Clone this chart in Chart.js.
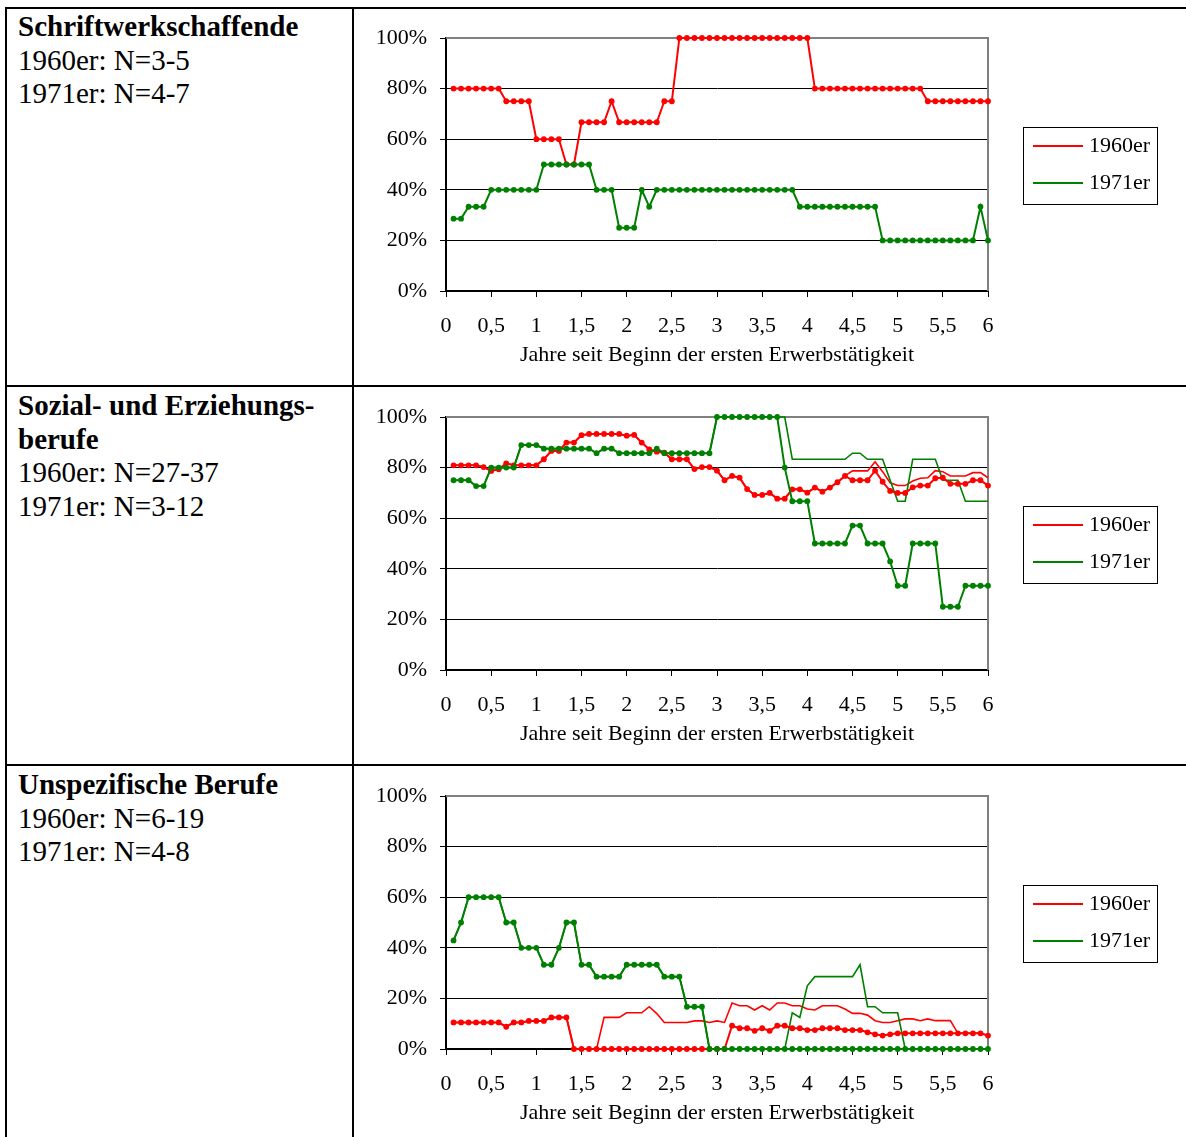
<!DOCTYPE html>
<html lang="de">
<head>
<meta charset="UTF-8">
<title>Erwerbstätigkeit nach Berufsgruppen</title>
<script src="https://cdn.jsdelivr.net/npm/chart.js"></script>
<style>
  body { margin:0; width:1186px; height:1137px; overflow:hidden; background:#fff; position:relative;
         font-family:'Liberation Serif','Times New Roman',serif; }
  .hl { position:absolute; left:5px; right:0; height:2px; background:#000; }
  .vl { position:absolute; top:7px; bottom:0; width:2px; background:#000; }
  .txt { position:absolute; left:18px; font-size:29px; line-height:33.6px; color:#000; }
  canvas { position:absolute; left:355px; }
</style>
</head>
<body>
<div class="hl" style="top:7px"></div>
<div class="hl" style="top:385px"></div>
<div class="hl" style="top:764px"></div>
<div class="vl" style="left:5px"></div>
<div class="vl" style="left:352px"></div>

<div class="txt" style="top:10px"><b>Schriftwerkschaffende</b><br>1960er: N=3-5<br>1971er: N=4-7</div>
<div class="txt" style="top:389px"><b>Sozial- und Erziehungs-<br>berufe</b><br>1960er: N=27-37<br>1971er: N=3-12</div>
<div class="txt" style="top:768px"><b>Unspezifische Berufe</b><br>1960er: N=6-19<br>1971er: N=4-8</div>

<canvas id="c1" width="831" height="370" style="top:8px"></canvas>
<canvas id="c2" width="831" height="370" style="top:387px"></canvas>
<canvas id="c3" width="831" height="370" style="top:766px"></canvas>

<script>
// Monate seit Beginn der ersten Erwerbstätigkeit
const monate = [1,2,3,4,5,6,7,8,9,10,11,12,13,14,15,16,17,18,19,20,21,22,23,24,
  25,26,27,28,29,30,31,32,33,34,35,36,37,38,39,40,41,42,43,44,45,46,47,48,
  49,50,51,52,53,54,55,56,57,58,59,60,61,62,63,64,65,66,67,68,69,70,71,72];
const kohorten = ['1960er', '1971er'];
const achsenTitel = 'Jahre seit Beginn der ersten Erwerbstätigkeit';

// Schriftwerkschaffende
const schrift1960 = [
  80,80,80,80,80,80,80,75,75,75,75,60,
  60,60,60,50,50,66.7,66.7,66.7,66.7,75,66.7,66.7,
  66.7,66.7,66.7,66.7,75,75,100,100,100,100,100,100,
  100,100,100,100,100,100,100,100,100,100,100,100,
  80,80,80,80,80,80,80,80,80,80,80,80,
  80,80,80,75,75,75,75,75,75,75,75,75];
const schrift1971 = [
  28.6,28.6,33.3,33.3,33.3,40,40,40,40,40,40,40,
  50,50,50,50,50,50,50,40,40,40,25,25,
  25,40,33.3,40,40,40,40,40,40,40,40,40,
  40,40,40,40,40,40,40,40,40,40,33.3,33.3,
  33.3,33.3,33.3,33.3,33.3,33.3,33.3,33.3,33.3,20,20,20,
  20,20,20,20,20,20,20,20,20,20,33.3,20];

// Sozial- und Erziehungsberufe
const sozial1960Punkte = [
  80.9,80.9,80.9,80.9,80.2,78.7,79.3,81.7,80.9,80.9,80.9,80.9,
  83.3,86.6,86.6,89.9,89.9,92.8,93.3,93.3,93.3,93.3,93.3,92.6,
  92.9,89.9,87.2,86.3,85.9,83.3,83.3,83.3,79.4,80.2,80.2,78.8,
  75.0,76.7,76.0,71.5,69.2,69.2,70.0,67.7,67.7,71.4,71.4,70.1,
  72.1,70.5,72.1,74.2,76.7,75.0,75.0,75.0,78.8,74.4,70.8,70.0,
  70.0,72.2,72.9,72.9,75.8,76.0,73.6,73.6,73.6,75.0,75.0,72.9];
const sozial1960Linie = [
  80.9,80.9,80.9,80.9,80.2,78.7,79.3,81.7,80.9,80.9,80.9,80.9,
  83.3,86.6,86.6,89.9,89.9,92.8,93.3,93.3,93.3,93.3,93.3,92.6,
  92.9,89.9,87.2,86.3,85.9,83.3,83.3,83.3,79.4,80.2,80.2,78.8,
  75.0,76.7,76.0,71.5,69.2,69.2,70.0,67.7,67.7,71.4,71.4,70.1,
  72.1,70.5,72.1,74.2,76.7,78.7,78.7,78.7,82.3,78.4,74.0,72.9,
  72.9,74.7,75.8,76.0,78.8,78.4,76.7,76.7,76.7,78.0,78.0,76.0];
const sozial1971Punkte = [
  75,75,75,72.7,72.7,80,80,80,80,88.9,88.9,88.9,
  87.5,87.5,87.5,87.5,87.5,87.5,87.5,85.7,87.5,87.5,85.7,85.7,
  85.7,85.7,85.7,87.5,85.7,85.7,85.7,85.7,85.7,85.7,85.7,100,
  100,100,100,100,100,100,100,100,80,66.7,66.7,66.7,
  50,50,50,50,50,57.1,57.1,50,50,50,42.9,33.3,
  33.3,50,50,50,50,25,25,25,33.3,33.3,33.3,33.3];
const sozial1971Linie = [
  75,75,75,72.7,72.7,80,80,80,80,88.9,88.9,88.9,
  87.5,87.5,87.5,87.5,87.5,87.5,87.5,85.7,87.5,87.5,85.7,85.7,
  85.7,85.7,85.7,87.5,85.7,85.7,85.7,85.7,85.7,85.7,85.7,100,
  100,100,100,100,100,100,100,100,100,83.3,83.3,83.3,
  83.3,83.3,83.3,83.3,83.3,85.7,85.7,83.3,83.3,83.3,75,66.7,
  66.7,83.3,83.3,83.3,83.3,75,75,75,66.7,66.7,66.7,66.7];

// Unspezifische Berufe
const unspez1960Punkte = [
  10.5,10.5,10.5,10.5,10.5,10.5,10.5,8.8,10.5,10.5,11.1,11.1,
  11.1,12.5,12.5,12.5,0,0,0,0,0,0,0,0,
  0,0,0,0,0,0,0,0,0,0,0,0,
  0,9.2,8.2,8.2,7.2,8.2,7.2,9.2,9.2,8.2,8.2,7.5,
  7.5,8.2,8.2,8.2,7.5,7.5,7.5,6.6,5.8,5.3,5.8,6.2,
  6.2,6.2,6.2,6.2,6.2,6.2,6.2,6.2,6.2,6.2,6.2,5.3];
const unspez1960Linie = [
  10.5,10.5,10.5,10.5,10.5,10.5,10.5,8.8,10.5,10.5,11.1,11.1,
  11.1,12.5,12.5,12.5,0,0,0,0,12.5,12.5,12.5,14.3,
  14.3,14.3,16.7,14,10.5,10.5,10.5,10.5,11.1,11.1,10.5,11.1,
  10.5,18.2,17.1,17.1,15.4,17.1,15.4,18.2,18.2,17.1,17.1,15.8,
  15.4,17.1,17.1,17.1,15.8,14.1,14.1,13.4,11.2,10.5,10.5,11.2,
  11.9,11.9,11.2,11.9,11.2,11.2,11.2,6.2,6.2,6.2,6.2,5.3];
const unspez1971Punkte = [
  42.9,50,60,60,60,60,60,50,50,40,40,40,
  33.3,33.3,40,50,50,33.3,33.3,28.6,28.6,28.6,28.6,33.3,
  33.3,33.3,33.3,33.3,28.6,28.6,28.6,16.7,16.7,16.7,0,0,
  0,0,0,0,0,0,0,0,0,0,0,0,
  0,0,0,0,0,0,0,0,0,0,0,0,
  0,0,0,0,0,0,0,0,0,0,0,0];
const unspez1971Linie = [
  42.9,50,60,60,60,60,60,50,50,40,40,40,
  33.3,33.3,40,50,50,33.3,33.3,28.6,28.6,28.6,28.6,33.3,
  33.3,33.3,33.3,33.3,28.6,28.6,28.6,16.7,16.7,16.7,0,0,
  0,0,0,0,0,0,0,0,0,14.3,12.5,25,
  28.6,28.6,28.6,28.6,28.6,28.6,33.3,16.7,16.7,14.3,14.3,14.3,
  0,0,0,0,0,0,0,0,0,0,0,0];

const ROT = '#ff0000';
const GRUEN = '#008000';

Chart.defaults.font.family = "'Liberation Serif', 'Times New Roman', serif";
Chart.defaults.font.size = 22;
Chart.defaults.color = '#000';

// Rahmen rechts/oben um die Zeichenfläche
const rahmen = {
  id: 'rahmen',
  beforeDatasetsDraw(chart) {
    const a = chart.chartArea, ctx = chart.ctx;
    ctx.save();
    ctx.strokeStyle = '#808080';
    ctx.lineWidth = 2;
    ctx.beginPath();
    ctx.moveTo(a.left, a.top);
    ctx.lineTo(a.right, a.top);
    ctx.lineTo(a.right, a.bottom);
    ctx.stroke();
    ctx.restore();
  }
};

// Legende mit Kasten, rechts neben dem Diagramm
const kastenLegende = {
  id: 'kastenLegende',
  afterDraw(chart, args, opts) {
    const ctx = chart.ctx;
    const x = opts.x, y = opts.y;
    ctx.save();
    ctx.strokeStyle = '#000';
    ctx.lineWidth = 1;
    ctx.strokeRect(x + 0.5, y + 0.5, opts.w, opts.h);
    opts.items.forEach((it, i) => {
      const ly = y + 19 + i * 37;
      ctx.strokeStyle = it.color;
      ctx.lineWidth = 2;
      ctx.beginPath();
      ctx.moveTo(x + 10, ly);
      ctx.lineTo(x + 60, ly);
      ctx.stroke();
      ctx.fillStyle = '#000';
      ctx.font = "22px 'Liberation Serif', serif";
      ctx.textBaseline = 'middle';
      ctx.fillText(it.text, x + 66, ly);
    });
    ctx.restore();
  }
};

function serie(values, color, punkte) {
  return {
    data: values,
    borderColor: color,
    backgroundColor: color,
    borderWidth: punkte ? 2 : 1.6,
    pointRadius: punkte ? 2.9 : 0,
    pointBorderWidth: 0,
    pointBackgroundColor: color,
    tension: 0,
    clip: false
  };
}

function makeChart(id, datasets) {
  new Chart(document.getElementById(id), {
    type: 'line',
    data: { labels: monate.map(m => m / 12), datasets: datasets },
    plugins: [rahmen, kastenLegende],
    options: {
      responsive: false,
      animation: false,
      layout: { padding: { top: 30, right: 198, bottom: 10, left: 0 } },
      plugins: {
        legend: { display: false },
        tooltip: { enabled: false },
        kastenLegende: {
          x: 668, y: 119, w: 134, h: 77,
          items: [{ text: kohorten[0], color: ROT }, { text: kohorten[1], color: GRUEN }]
        }
      },
      scales: {
        x: {
          type: 'linear', min: 0, max: 6,
          afterFit: s => { s.height = 77; },
          ticks: { stepSize: 0.5, autoSkip: false, maxRotation: 0, padding: 16, color: '#000',
                   callback: v => String(v).replace('.', ',') },
          grid: { drawOnChartArea: false, drawTicks: true, tickLength: 6, color: '#000' },
          border: { color: '#000', width: 2 },
          title: { display: true, text: achsenTitel, color: '#000', padding: 0 }
        },
        y: {
          min: 0, max: 100,
          afterFit: s => { s.width = 91; },
          ticks: { stepSize: 20, padding: 13, color: '#000', callback: v => v + '%' },
          grid: { color: '#000', lineWidth: 1, tickLength: 6 },
          border: { color: '#000', width: 2 }
        }
      }
    }
  });
}

makeChart('c1', [
  serie(schrift1971, GRUEN, true),
  serie(schrift1960, ROT, true)
]);
makeChart('c2', [
  serie(sozial1971Punkte, GRUEN, true),
  serie(sozial1960Punkte, ROT, true),
  serie(sozial1971Linie, GRUEN, false),
  serie(sozial1960Linie, ROT, false)
]);
makeChart('c3', [
  serie(unspez1971Punkte, GRUEN, true),
  serie(unspez1960Punkte, ROT, true),
  serie(unspez1971Linie, GRUEN, false),
  serie(unspez1960Linie, ROT, false)
]);
</script>
</body>
</html>
